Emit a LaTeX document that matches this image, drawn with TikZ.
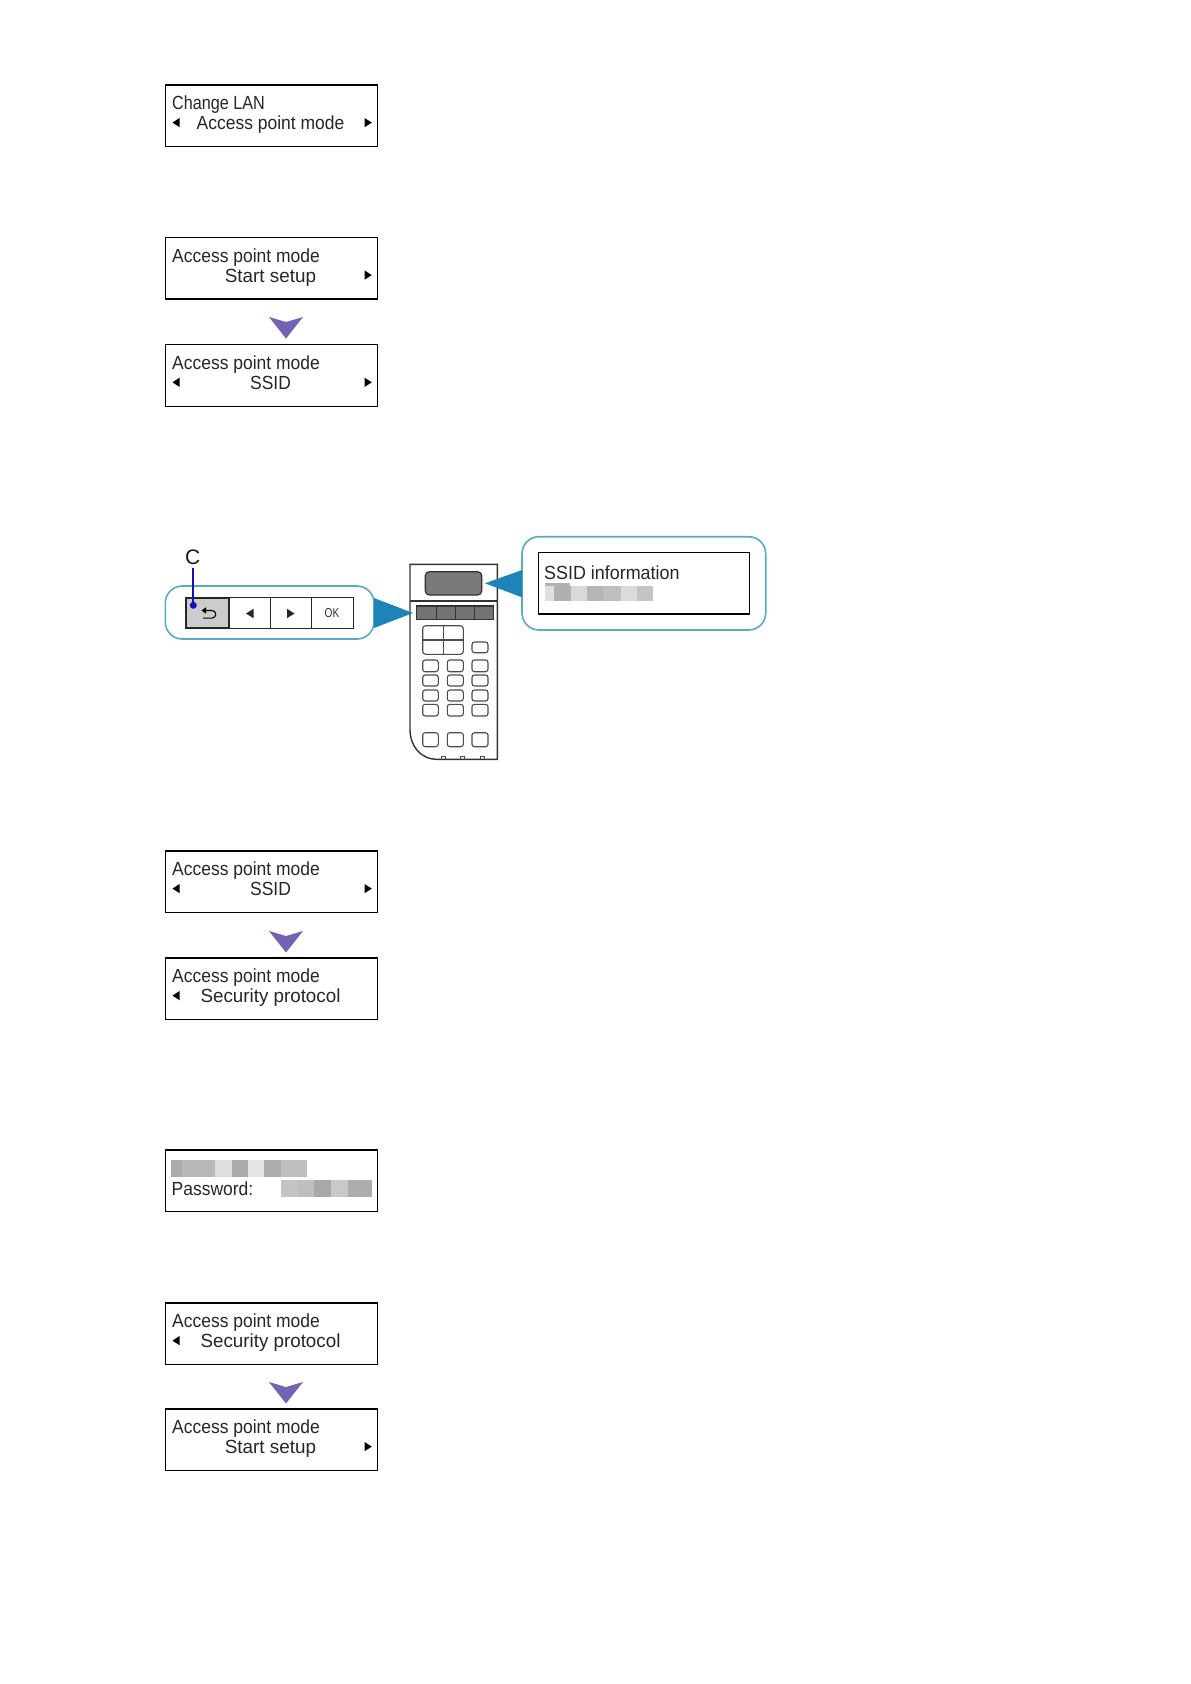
\documentclass[tikz,border=0pt]{standalone}
\usepackage{fontspec}
\setmainfont{Liberation Sans}
\newcommand{\lcdfont}{\fontsize{19}{19}\selectfont}
\newcommand{\wider}[2]{\scalebox{#1}[1]{#2}}
\tikzset{
  x=1pt,y=-1pt,
  lcdbox/.style={draw=black,line width=1.4pt,fill=white},
  lcdtext/.style={inner sep=0pt,font=\lcdfont,text=black!85,xscale=0.92},
  marker/.style={fill=black,draw=none},
  flow/.style={fill=flowviolet,draw=none},
  bubble/.style={draw=bubbleblue,line width=1.6pt,fill=white,rounded corners=17pt},
  pointer/.style={fill=pointerblue,draw=none},
  panelline/.style={draw=black!80,line width=1.4pt},
  keycap/.style={draw=black!70,line width=1.1pt,fill=white,rounded corners=2.5pt},
  softkey/.style={draw=black!85,line width=1.3pt,fill=white},
  blur/.style={draw=none}
}
\definecolor{flowviolet}{HTML}{7463B5}
\definecolor{bubbleblue}{HTML}{5BA8C9}
\definecolor{pointerblue}{HTML}{1C84B8}
\definecolor{leaderblue}{HTML}{1212B4}
% #1 name, #2 top y, #3 line one, #4 line two
\newcommand{\lcdpanel}[4]{%
  \draw[lcdbox] (165.5,#2) rectangle (377.5,#2+61.5);
  \node[lcdtext,anchor=base west] (#1a) at (172,#2+24.5) {#3};
  \node[lcdtext,anchor=base] (#1b) at (270.5,#2+44.5) {#4};
}
\newcommand{\lcdleft}[1]{\fill[marker] (172.5,#1+37.6) -- (179.5,#1+33) -- (179.5,#1+42.2) -- cycle;}
\newcommand{\lcdright}[1]{\fill[marker] (371.8,#1+37.6) -- (364.6,#1+33) -- (364.6,#1+42.2) -- cycle;}
\newcommand{\flowarrow}[1]{\fill[flow] (269,#1) -- (286,#1+5) -- (303,#1) -- (286,#1+21.5) -- cycle;}
\newcommand{\blurrow}[3]{% y0, y1, list x0/x1/gray
  \foreach \xa/\xb/\g in {#3}{\fill[blur,fill=black!\g] (\xa,#1) rectangle (\xb,#2);}
}
\begin{document}
\begin{tikzpicture}
\useasboundingbox (0,0) rectangle (1191,1684);
\fill[white] (0,0) rectangle (1191,1684);

% LCD screens
\lcdpanel{one}{85}{\wider{0.925}{Change LAN}}{Access point mode}
\lcdleft{85}\lcdright{85}
\lcdpanel{two}{237.5}{Access point mode}{\wider{1.08}{Start setup}}
\lcdright{237.5}
\flowarrow{317}
\lcdpanel{three}{344.7}{Access point mode}{SSID}
\lcdleft{344.7}\lcdright{344.7}
\lcdpanel{four}{851}{Access point mode}{SSID}
\lcdleft{851}\lcdright{851}
\flowarrow{931}
\lcdpanel{five}{958}{Access point mode}{\wider{1.075}{Security protocol}}
\lcdleft{958}
\lcdpanel{six}{1150}{}{}
\blurrow{1160}{1177.3}{170.7/182/33,182/215/28,215/232/13,232/248/33,248/264/10,264/281/32,281/306.7/25}
\node[lcdtext,anchor=base west] (pw) at (171.5,1195) {Password:};
\blurrow{1180}{1196.7}{281/298/23,298/314/25,314/331/34,331/348/21,348/371.7/32}
\lcdpanel{seven}{1303}{Access point mode}{\wider{1.075}{Security protocol}}
\lcdleft{1303}
\flowarrow{1382}
\lcdpanel{eight}{1409}{Access point mode}{\wider{1.08}{Start setup}}
\lcdright{1409}

% Printer control panel
\draw[panelline,fill=white] (497.3,759.3) -- (437,759.3) .. controls (420,759.3) and (410,745) .. (410,730) -- (410,564.3) -- (497.3,564.3) -- cycle;
\draw[panelline] (410,601) -- (497.3,601);
\draw[draw=black!80,line width=1.2pt,fill=black!52,rounded corners=4pt] (425.3,571.7) rectangle (481.7,595);
\draw[draw=black!80,line width=1.1pt,fill=black!55] (416.7,606) rectangle (493.3,619.3);
\draw[draw=black!80,line width=0.9pt] (436.7,606) -- (436.7,619.3) (455.7,606) -- (455.7,619.3) (474,606) -- (474,619.3);
\draw[keycap,rounded corners=3pt] (422.7,625.7) rectangle (463.3,654.3);
\draw[draw=black!70,line width=1.1pt] (443.3,625.7) -- (443.3,654.3) (422.7,640) -- (463.3,640);
\draw[keycap] (472,642) rectangle (488,652.7);
\foreach \ya/\yb in {660/671.7,675/686,690/701,704.3/716,732.7/746.7}{
  \draw[keycap] (422.7,\ya) rectangle (438.3,\yb);
  \draw[keycap] (447.3,\ya) rectangle (463.3,\yb);
  \draw[keycap] (472,\ya) rectangle (488,\yb);
}
\foreach \xx in {443.3,462.7,482}{
  \draw[draw=black!70,line width=0.9pt] (\xx-2,759.3) -- (\xx-2,756.5) -- (\xx+2,756.5) -- (\xx+2,759.3);
}

% Left callout
\draw[bubble] (165.3,586) rectangle (374,639);
\fill[pointer] (374,598) -- (413,613) -- (374,628) -- cycle;
\draw[softkey] (229.3,597.7) rectangle (353.3,628.3);
\draw[softkey] (270.7,597.7) -- (270.7,628.3) (311.3,597.7) -- (311.3,628.3);
\draw[draw=black!85,line width=1.9pt,fill=black!20] (186,597.7) rectangle (229.3,628.3);
% return glyph
\draw[black,line width=1.1pt] (205,610.5) -- (212,610.5) arc (-90:90:3.8) -- (203,618.1);
\fill[black] (201.5,610.5) -- (206,607.3) -- (206,613.7) -- cycle;
\fill[black!85] (246,613.5) -- (253.5,608.8) -- (253.5,618.2) -- cycle;
\fill[black!85] (294.5,613.5) -- (287,608.8) -- (287,618.2) -- cycle;
\node[inner sep=0pt,font=\fontsize{13}{13}\selectfont,text=black!80,xscale=0.78] (okkey) at (332,613.5) {OK};
\node[circle,fill=leaderblue,inner sep=0pt,minimum size=7pt] (cdot) at (193.3,605.3) {};
\node[inner sep=0pt,font=\fontsize{21}{21}\selectfont,text=black!90] (clabel) at (192.7,557) {C};
\coordinate (ctop) at (193.3,567.7);
\draw[leaderblue,line width=2pt] (ctop) -- (cdot);

% Right callout
\draw[bubble] (522,536.7) rectangle (765.7,630);
\fill[pointer] (522,570) -- (485,583.3) -- (522,597.3) -- cycle;
\draw[lcdbox] (538.3,552.7) rectangle (749.3,614);
\node[lcdtext,anchor=base west] (ssidinfo) at (544,579.3) {\wider{1.025}{SSID information}};
\fill[black!30] (545,582.5) rectangle (570,585.7);
\blurrow{585.7}{600.7}{545/554/12,554/571/31,571/587/15,587/603/29,603/621/25,621/637/14,637/653.3/23}
\end{tikzpicture}
\end{document}
